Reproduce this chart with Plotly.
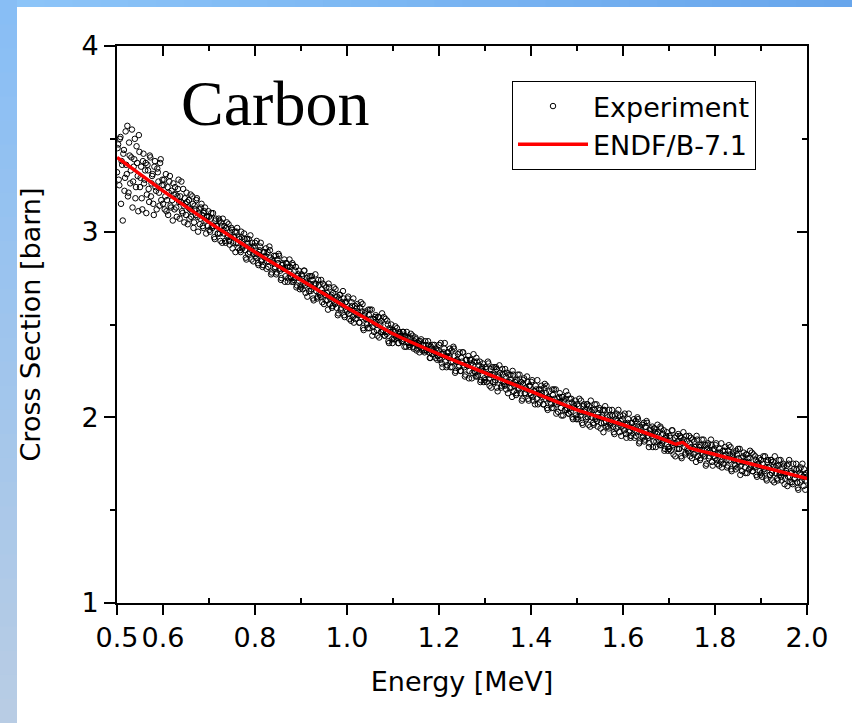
import numpy as np
import plotly.graph_objects as go

# ---------------- data ----------------
# experimental points: two interleaved energy grids [MeV]
exp_energy_a = np.round(np.arange(0, 601) * 0.0025 + 0.5, 5)
exp_energy_b = np.round(np.arange(0, 600) * 0.0025 + 0.50125, 5)

exp_xs_a = [
    # 0.5 - 0.6
    3.32, 3.47, 3.25, 3.51, 3.38, 3.06, 3.44, 3.29, 3.36, 3.57,
    3.21, 3.41, 3.33, 3.55, 3.27, 3.39, 3.18, 3.46, 3.30, 3.52,
    3.24, 3.35, 3.12, 3.42, 3.28, 3.37, 3.20, 3.33, 3.16, 3.40,
    3.26, 3.31, 3.09, 3.38, 3.22, 3.34, 3.27, 3.14, 3.39, 3.25,
    # 0.6 - 0.7
    3.15, 3.28, 3.19, 3.11, 3.24, 3.21, 3.30, 3.13, 3.17, 3.26,
    3.12, 3.20, 3.08, 3.23, 3.16, 3.19, 3.27, 3.10, 3.14, 3.18,
    3.09, 3.16, 3.13, 3.07, 3.20, 3.11, 3.15, 3.05, 3.12, 3.17,
    3.08, 3.10, 3.04, 3.13, 3.09, 3.02, 3.11, 3.06, 3.08, 3.03,
    # 0.7 - 0.8
    3.08, 3.00, 3.10, 3.02, 3.03, 2.96, 3.07, 3.03, 2.99, 3.06,
    2.95, 3.03, 3.07, 2.99, 2.95, 3.02, 2.97, 3.04, 2.93, 2.97,
    3.01, 2.94, 2.97, 2.89, 3.00, 2.94, 2.97, 2.90, 3.00, 2.91,
    2.93, 2.96, 2.86, 2.96, 2.88, 2.92, 2.98, 2.85, 2.92, 2.88,
    # 0.8 - 0.9
    2.94, 2.86, 2.88, 2.82, 2.90, 2.94, 2.85, 2.82, 2.89, 2.87,
    2.80, 2.89, 2.84, 2.90, 2.77, 2.85, 2.83, 2.80, 2.87, 2.78,
    2.83, 2.87, 2.79, 2.75, 2.83, 2.80, 2.73, 2.83, 2.81, 2.75,
    2.85, 2.76, 2.73, 2.82, 2.74, 2.79, 2.70, 2.76, 2.79, 2.69,
    # 0.9 - 1.0
    2.70, 2.76, 2.72, 2.79, 2.67, 2.75, 2.72, 2.68, 2.76, 2.69,
    2.74, 2.63, 2.71, 2.72, 2.64, 2.74, 2.67, 2.65, 2.69, 2.72,
    2.61, 2.66, 2.70, 2.63, 2.72, 2.61, 2.65, 2.59, 2.67, 2.62,
    2.69, 2.59, 2.55, 2.64, 2.66, 2.59, 2.61, 2.64, 2.54, 2.62,
    # 1.0 - 1.1
    2.57, 2.65, 2.53, 2.59, 2.62, 2.54, 2.51, 2.60, 2.56, 2.61,
    2.55, 2.51, 2.62, 2.57, 2.48, 2.55, 2.57, 2.51, 2.48, 2.55,
    2.58, 2.51, 2.44, 2.53, 2.51, 2.55, 2.47, 2.54, 2.43, 2.50,
    2.52, 2.46, 2.54, 2.44, 2.46, 2.52, 2.41, 2.48, 2.46, 2.42,
    # 1.1 - 1.2
    2.47, 2.42, 2.49, 2.43, 2.44, 2.40, 2.45, 2.44, 2.41, 2.46,
    2.38, 2.43, 2.46, 2.40, 2.39, 2.43, 2.40, 2.44, 2.37, 2.40,
    2.42, 2.37, 2.40, 2.35, 2.41, 2.37, 2.39, 2.36, 2.41, 2.36,
    2.37, 2.39, 2.32, 2.38, 2.34, 2.36, 2.39, 2.32, 2.36, 2.33,
    # 1.2 - 1.3
    2.39, 2.31, 2.34, 2.27, 2.35, 2.40, 2.33, 2.28, 2.35, 2.33,
    2.27, 2.36, 2.30, 2.37, 2.24, 2.30, 2.30, 2.27, 2.35, 2.25,
    2.30, 2.35, 2.27, 2.23, 2.31, 2.28, 2.21, 2.31, 2.29, 2.24,
    2.34, 2.25, 2.22, 2.30, 2.23, 2.28, 2.19, 2.26, 2.29, 2.19,
    # 1.3 - 1.4
    2.20, 2.26, 2.23, 2.29, 2.17, 2.26, 2.23, 2.19, 2.27, 2.20,
    2.26, 2.14, 2.22, 2.24, 2.16, 2.26, 2.19, 2.17, 2.22, 2.24,
    2.13, 2.19, 2.23, 2.16, 2.25, 2.14, 2.19, 2.12, 2.20, 2.16,
    2.23, 2.13, 2.09, 2.18, 2.21, 2.13, 2.15, 2.19, 2.09, 2.17,
    # 1.4 - 1.5
    2.12, 2.20, 2.09, 2.14, 2.17, 2.10, 2.07, 2.15, 2.12, 2.17,
    2.11, 2.07, 2.18, 2.13, 2.05, 2.11, 2.14, 2.08, 2.05, 2.12,
    2.15, 2.08, 2.02, 2.10, 2.08, 2.13, 2.05, 2.11, 2.01, 2.08,
    2.10, 2.04, 2.12, 2.02, 2.05, 2.10, 2.00, 2.07, 2.05, 2.01,
    # 1.5 - 1.6
    2.07, 1.99, 2.10, 2.01, 2.03, 1.96, 2.07, 2.04, 1.99, 2.07,
    1.96, 2.04, 2.09, 2.00, 1.97, 2.04, 1.99, 2.07, 1.95, 2.00,
    2.04, 1.97, 2.01, 1.92, 2.04, 1.98, 2.01, 1.95, 2.04, 1.96,
    1.98, 2.01, 1.92, 2.01, 1.94, 1.98, 2.04, 1.92, 1.98, 1.95,
    # 1.6 - 1.7
    2.01, 1.93, 1.96, 1.89, 1.97, 2.02, 1.93, 1.90, 1.97, 1.95,
    1.89, 1.98, 1.92, 1.99, 1.86, 1.95, 1.92, 1.89, 1.97, 1.88,
    1.92, 1.97, 1.89, 1.86, 1.94, 1.90, 1.84, 1.94, 1.92, 1.87,
    1.96, 1.88, 1.85, 1.94, 1.86, 1.91, 1.82, 1.89, 1.92, 1.82,
    # 1.7 - 1.8
    1.83, 1.89, 1.86, 1.93, 1.80, 1.89, 1.86, 1.83, 1.91, 1.83,
    1.89, 1.78, 1.86, 1.88, 1.80, 1.90, 1.83, 1.81, 1.86, 1.89,
    1.78, 1.83, 1.87, 1.81, 1.90, 1.79, 1.84, 1.77, 1.85, 1.81,
    1.88, 1.79, 1.74, 1.83, 1.86, 1.79, 1.81, 1.85, 1.74, 1.83,
    # 1.8 - 1.9
    1.78, 1.86, 1.75, 1.81, 1.83, 1.76, 1.73, 1.82, 1.79, 1.84,
    1.77, 1.74, 1.85, 1.80, 1.72, 1.79, 1.81, 1.75, 1.72, 1.80,
    1.83, 1.76, 1.69, 1.78, 1.76, 1.81, 1.73, 1.80, 1.70, 1.76,
    1.78, 1.73, 1.81, 1.71, 1.74, 1.79, 1.69, 1.76, 1.74, 1.71,
    # 1.9 - 2.0
    1.77, 1.68, 1.79, 1.71, 1.73, 1.66, 1.77, 1.73, 1.69, 1.77,
    1.66, 1.74, 1.79, 1.70, 1.67, 1.74, 1.69, 1.77, 1.66, 1.70,
    1.74, 1.67, 1.71, 1.63, 1.75, 1.68, 1.71, 1.65, 1.75, 1.67,
    1.69, 1.72, 1.62, 1.72, 1.65, 1.69, 1.75, 1.63, 1.69, 1.66,
    1.68,
]

exp_xs_b = [
    # 0.5 - 0.6
    3.45, 3.28, 3.50, 3.15, 3.36, 3.42, 3.22, 3.54, 3.31, 3.19,
    3.48, 3.26, 3.40, 3.13, 3.35, 3.50, 3.24, 3.37, 3.11, 3.43,
    3.29, 3.18, 3.38, 3.26, 3.33, 3.10, 3.36, 3.23, 3.41, 3.19,
    3.30, 3.15, 3.35, 3.24, 3.12, 3.32, 3.21, 3.37, 3.17, 3.28,
    # 0.6 - 0.7
    3.25, 3.12, 3.31, 3.17, 3.09, 3.27, 3.14, 3.22, 3.06, 3.20,
    3.24, 3.13, 3.19, 3.28, 3.07, 3.16, 3.11, 3.23, 3.05, 3.15,
    3.21, 3.04, 3.17, 3.12, 3.08, 3.19, 3.02, 3.14, 3.09, 3.18,
    3.00, 3.12, 3.07, 3.15, 3.03, 3.10, 3.13, 2.99, 3.08, 3.11,
    # 0.7 - 0.8
    3.01, 3.07, 3.03, 3.10, 2.97, 3.06, 3.03, 2.99, 3.07, 2.99,
    3.05, 2.94, 3.01, 3.03, 2.94, 3.05, 2.98, 2.95, 3.00, 3.02,
    2.91, 2.97, 3.00, 2.94, 3.02, 2.91, 2.96, 2.89, 2.97, 2.92,
    2.99, 2.90, 2.85, 2.94, 2.96, 2.89, 2.91, 2.94, 2.84, 2.92,
    # 0.8 - 0.9
    2.87, 2.95, 2.83, 2.89, 2.92, 2.84, 2.81, 2.89, 2.86, 2.91,
    2.84, 2.81, 2.92, 2.86, 2.78, 2.84, 2.87, 2.81, 2.77, 2.85,
    2.88, 2.80, 2.74, 2.82, 2.80, 2.85, 2.76, 2.83, 2.73, 2.79,
    2.81, 2.75, 2.83, 2.73, 2.75, 2.81, 2.71, 2.77, 2.75, 2.71,
    # 0.9 - 1.0
    2.77, 2.69, 2.79, 2.71, 2.73, 2.65, 2.76, 2.72, 2.68, 2.76,
    2.64, 2.72, 2.77, 2.68, 2.65, 2.71, 2.66, 2.74, 2.62, 2.67,
    2.71, 2.63, 2.67, 2.58, 2.70, 2.64, 2.66, 2.60, 2.70, 2.61,
    2.63, 2.65, 2.56, 2.66, 2.58, 2.62, 2.68, 2.55, 2.62, 2.58,
    # 1.0 - 1.1
    2.64, 2.56, 2.58, 2.52, 2.60, 2.64, 2.55, 2.53, 2.59, 2.57,
    2.51, 2.59, 2.54, 2.61, 2.47, 2.56, 2.53, 2.50, 2.58, 2.48,
    2.53, 2.58, 2.49, 2.46, 2.54, 2.50, 2.44, 2.54, 2.51, 2.46,
    2.56, 2.47, 2.44, 2.53, 2.45, 2.50, 2.40, 2.47, 2.50, 2.40,
    # 1.1 - 1.2
    2.43, 2.46, 2.44, 2.48, 2.40, 2.46, 2.43, 2.41, 2.46, 2.42,
    2.44, 2.38, 2.43, 2.43, 2.38, 2.45, 2.40, 2.38, 2.41, 2.43,
    2.36, 2.39, 2.41, 2.38, 2.42, 2.36, 2.39, 2.35, 2.39, 2.36,
    2.41, 2.35, 2.32, 2.37, 2.39, 2.34, 2.35, 2.37, 2.31, 2.36,
    # 1.2 - 1.3
    2.32, 2.40, 2.29, 2.34, 2.37, 2.30, 2.27, 2.35, 2.32, 2.37,
    2.30, 2.27, 2.38, 2.33, 2.25, 2.31, 2.34, 2.28, 2.25, 2.32,
    2.35, 2.28, 2.22, 2.31, 2.28, 2.33, 2.25, 2.31, 2.21, 2.28,
    2.30, 2.24, 2.32, 2.22, 2.25, 2.30, 2.20, 2.27, 2.25, 2.21,
    # 1.3 - 1.4
    2.27, 2.19, 2.30, 2.21, 2.23, 2.16, 2.27, 2.23, 2.19, 2.27,
    2.16, 2.23, 2.28, 2.20, 2.17, 2.23, 2.18, 2.26, 2.15, 2.19,
    2.23, 2.16, 2.20, 2.11, 2.23, 2.17, 2.20, 2.13, 2.23, 2.15,
    2.17, 2.19, 2.10, 2.20, 2.13, 2.16, 2.22, 2.10, 2.17, 2.13,
    # 1.4 - 1.5
    2.19, 2.11, 2.14, 2.07, 2.15, 2.20, 2.13, 2.08, 2.15, 2.13,
    2.07, 2.16, 2.10, 2.17, 2.04, 2.10, 2.10, 2.07, 2.15, 2.05,
    2.10, 2.15, 2.07, 2.03, 2.11, 2.08, 2.01, 2.11, 2.09, 2.04,
    2.14, 2.05, 2.02, 2.10, 2.03, 2.08, 1.99, 2.06, 2.09, 1.99,
    # 1.5 - 1.6
    2.00, 2.06, 2.03, 2.09, 1.97, 2.06, 2.03, 2.00, 2.07, 2.00,
    2.06, 1.95, 2.03, 2.04, 1.96, 2.07, 2.00, 1.98, 2.02, 2.05,
    1.94, 2.00, 2.04, 1.97, 2.06, 1.95, 2.00, 1.94, 2.01, 1.97,
    2.04, 1.95, 1.91, 1.99, 2.02, 1.95, 1.97, 2.01, 1.90, 1.99,
    # 1.6 - 1.7
    1.94, 2.02, 1.91, 1.96, 1.99, 1.92, 1.89, 1.97, 1.94, 1.99,
    1.93, 1.90, 2.00, 1.95, 1.87, 1.94, 1.96, 1.90, 1.87, 1.95,
    1.98, 1.90, 1.84, 1.93, 1.91, 1.95, 1.87, 1.94, 1.84, 1.91,
    1.92, 1.87, 1.95, 1.85, 1.87, 1.93, 1.83, 1.90, 1.88, 1.84,
    # 1.7 - 1.8
    1.90, 1.82, 1.93, 1.85, 1.86, 1.79, 1.90, 1.87, 1.83, 1.90,
    1.79, 1.87, 1.92, 1.84, 1.81, 1.87, 1.82, 1.90, 1.79, 1.84,
    1.88, 1.80, 1.84, 1.76, 1.88, 1.82, 1.85, 1.78, 1.88, 1.80,
    1.82, 1.85, 1.75, 1.85, 1.78, 1.82, 1.88, 1.76, 1.82, 1.79,
    # 1.8 - 1.9
    1.85, 1.77, 1.80, 1.74, 1.81, 1.86, 1.77, 1.75, 1.82, 1.80,
    1.73, 1.82, 1.77, 1.84, 1.71, 1.80, 1.77, 1.74, 1.82, 1.73,
    1.78, 1.83, 1.74, 1.71, 1.79, 1.76, 1.70, 1.80, 1.78, 1.72,
    1.82, 1.74, 1.71, 1.80, 1.73, 1.77, 1.68, 1.75, 1.78, 1.69,
    # 1.9 - 2.0
    1.70, 1.75, 1.72, 1.79, 1.67, 1.76, 1.73, 1.69, 1.77, 1.70,
    1.76, 1.65, 1.73, 1.74, 1.66, 1.77, 1.70, 1.68, 1.73, 1.75,
    1.64, 1.70, 1.74, 1.68, 1.77, 1.65, 1.70, 1.64, 1.72, 1.67,
    1.75, 1.65, 1.61, 1.70, 1.73, 1.66, 1.68, 1.72, 1.61, 1.70,
]

endf_energy = [0.5, 0.6, 0.7, 0.8, 0.9, 1.0, 1.05, 1.1, 1.2, 1.3, 1.4, 1.5,
               1.6, 1.7, 1.715, 1.73, 1.745, 1.8, 1.9, 2.0]
endf_xs = [3.40, 3.22, 3.05, 2.89, 2.74, 2.59, 2.52, 2.45, 2.34, 2.24, 2.14, 2.04,
           1.96, 1.87, 1.855, 1.865, 1.835, 1.80, 1.735, 1.67]

x_major = [0.5, 0.6, 0.8, 1.0, 1.2, 1.4, 1.6, 1.8, 2.0]
x_major_text = ["0.5", "0.6", "0.8", "1.0", "1.2", "1.4", "1.6", "1.8", "2.0"]
x_minor = [0.7, 0.9, 1.1, 1.3, 1.5, 1.7, 1.9]
y_major = [1, 2, 3, 4]
y_minor = [1.5, 2.5, 3.5]

# ---------------- figure ----------------
W, H = 852, 723
L, R, T, B = 117, 45, 46, 120
PW, PH = W - L - R, H - T - B

FONT = "DejaVu Sans, Liberation Sans, Arial, sans-serif"
FS = 27

exp_energy = list(exp_energy_a) + list(exp_energy_b)
exp_xs = exp_xs_a + exp_xs_b

fig = go.Figure()
fig.add_trace(go.Scatter(
    x=exp_energy, y=exp_xs, mode="markers", name="Experiment",
    marker=dict(symbol="circle-open", size=5.5, color="black", line=dict(width=1, color="black")),
))
fig.add_trace(go.Scatter(
    x=endf_energy, y=endf_xs, mode="lines", name="ENDF/B-7.1",
    line=dict(color="#ff0000", width=3.5, shape="spline", smoothing=0.3),
))
fig.add_trace(go.Scatter(x=[None], y=[None], xaxis="x2", yaxis="y2",
                         showlegend=False, hoverinfo="skip"))

axis_common = dict(showline=True, linecolor="black", linewidth=2, showgrid=False,
                   zeroline=False, tickcolor="black", tickwidth=2, mirror=False)

fig.update_layout(
    width=W, height=H,
    margin=dict(l=L, r=R, t=T, b=B, pad=0),
    paper_bgcolor="white", plot_bgcolor="white",
    font=dict(family=FONT, size=FS, color="black"),
    showlegend=True,
    legend=dict(x=(512 - L) / PW, y=(603 - 81) / PH, xanchor="left", yanchor="top",
                bordercolor="black", borderwidth=1, bgcolor="white",
                font=dict(family=FONT, size=FS), itemwidth=70,
                tracegroupgap=0),
    xaxis=dict(range=[0.5, 2.0], tickmode="array", tickvals=x_major, ticktext=x_major_text,
               ticks="outside", ticklen=10,
               minor=dict(tickmode="array", tickvals=x_minor, ticks="inside", ticklen=5,
                          tickwidth=2, tickcolor="black"),
               title=dict(text="Energy [MeV]", font=dict(size=FS), standoff=20),
               tickfont=dict(size=FS), **axis_common),
    yaxis=dict(range=[1, 4], tickmode="array", tickvals=y_major,
               ticks="outside", ticklen=11,
               minor=dict(tickmode="array", tickvals=y_minor, ticks="outside", ticklen=5,
                          tickwidth=2, tickcolor="black"),
               title=dict(text="Cross Section [barn]", font=dict(size=FS), standoff=33),
               tickfont=dict(size=FS), **axis_common),
    xaxis2=dict(range=[0.5, 2.0], overlaying="x", side="top", anchor="y2",
                tickmode="array", tickvals=x_major, showticklabels=False,
                ticks="inside", ticklen=10,
                minor=dict(tickmode="array", tickvals=x_minor, ticks="inside", ticklen=5,
                           tickwidth=2, tickcolor="black"),
                **axis_common),
    yaxis2=dict(range=[1, 4], overlaying="y", side="right", anchor="x2",
                tickmode="array", tickvals=y_major, showticklabels=False,
                ticks="inside", ticklen=10,
                minor=dict(tickmode="array", tickvals=y_minor, ticks="inside", ticklen=5,
                           tickwidth=2, tickcolor="black"),
                **axis_common),
)

fig.add_annotation(text="Carbon", xref="paper", yref="paper",
                   x=(275 - L) / PW, y=(603 - 103) / PH, showarrow=False,
                   xanchor="center", yanchor="middle",
                   font=dict(family="Liberation Serif, Times New Roman, serif", size=64, color="black"))

# decorative blue gradient frame (top strip and left strip)
def px_x(p):
    return (p - L) / PW

def px_y(p):
    return (H - B - p) / PH

def lerp(c1, c2, t):
    return "rgb(%d,%d,%d)" % tuple(round(a + (b - a) * t) for a, b in zip(c1, c2))

n = 30
top_c1, top_c2 = (140, 196, 248), (104, 166, 236)
left_c1, left_c2 = (136, 190, 245), (184, 204, 228)
for i in range(n):
    x0 = 17 + (W - 17) * i / n
    x1 = 17 + (W - 17) * (i + 1) / n + 1
    fig.add_shape(type="rect", xref="paper", yref="paper", layer="below",
                  x0=px_x(x0), x1=px_x(x1), y0=px_y(7), y1=px_y(0),
                  line=dict(width=0), fillcolor=lerp(top_c1, top_c2, i / (n - 1)))
for i in range(n):
    y0 = H * i / n
    y1 = H * (i + 1) / n + 1
    fig.add_shape(type="rect", xref="paper", yref="paper", layer="below",
                  x0=px_x(0), x1=px_x(17), y0=px_y(y1), y1=px_y(y0),
                  line=dict(width=0), fillcolor=lerp(left_c1, left_c2, i / (n - 1)))

fig.write_html("out.html")
